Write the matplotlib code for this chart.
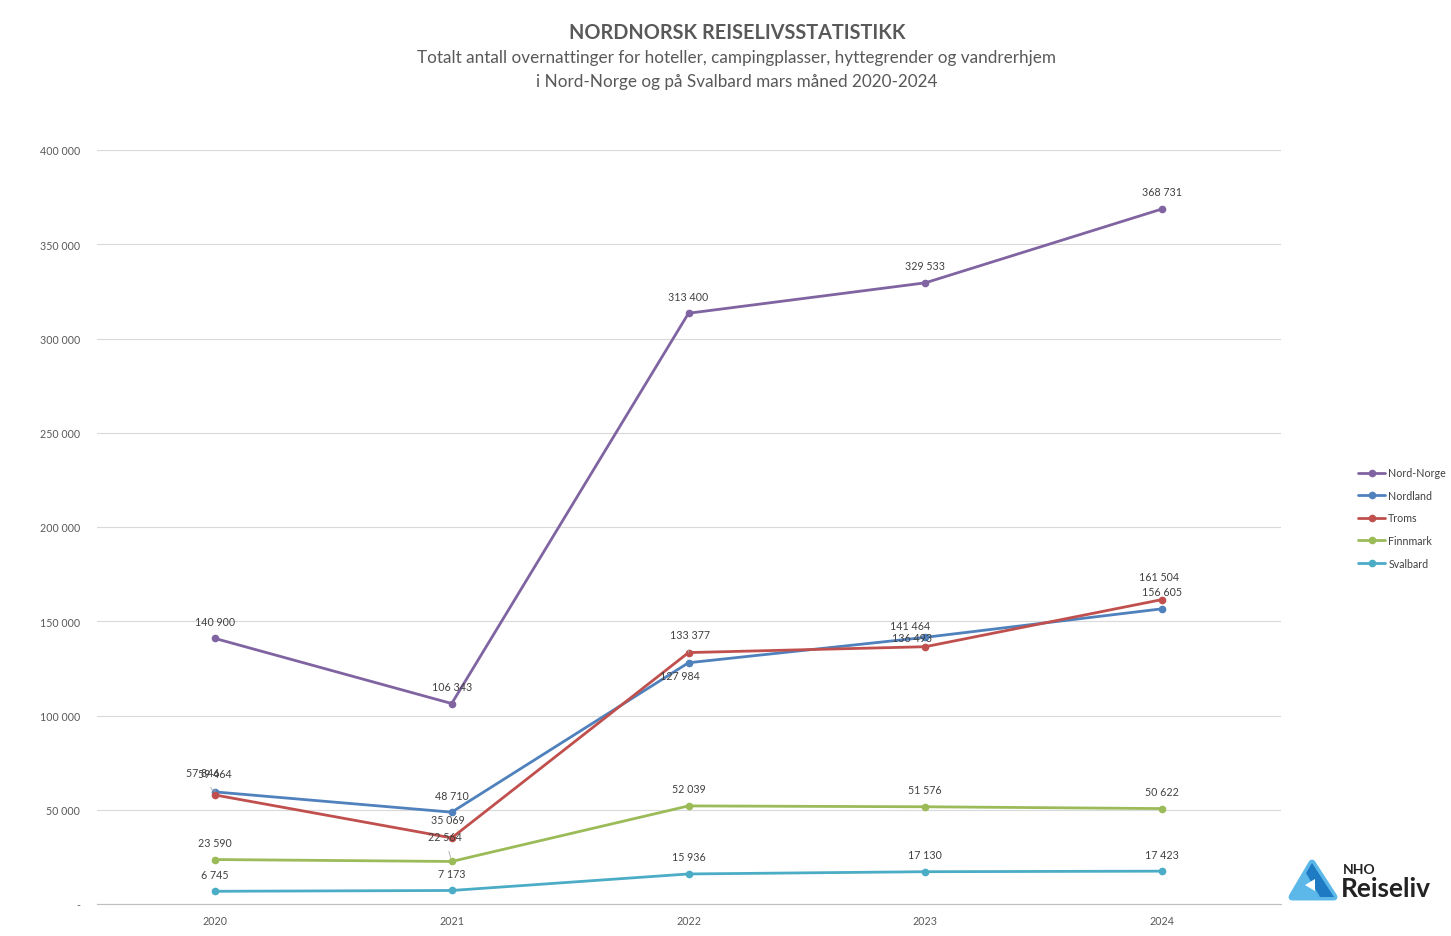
import matplotlib.pyplot as plt
from matplotlib.patches import Polygon
import numpy as np

plt.rcParams['font.family'] = ['Lato', 'DejaVu Sans']

## Data
years = ['2020', '2021', '2022', '2023', '2024']
series_names = ['Nord-Norge', 'Nordland', 'Troms', 'Finnmark', 'Svalbard']
nord_norge = [140900, 106343, 313400, 329533, 368731]
nordland = [59464, 48710, 127984, 141464, 156605]
troms = [57846, 35069, 133377, 136493, 161504]
finnmark = [23590, 22564, 52039, 51576, 50622]
svalbard = [6745, 7173, 15936, 17130, 17423]
yticks = [0, 50000, 100000, 150000, 200000, 250000, 300000, 350000, 400000]

colors = ['#8064A2', '#4F81BD', '#C0504D', '#9BBB59', '#4BACC6']
all_series = [nord_norge, nordland, troms, finnmark, svalbard]

# label centre offsets in pixels (dx, dy) where the default (0, 17) does not fit
label_offsets = {
    ('Nordland', 0): (0, 18), ('Troms', 0): (-12, 22),
    ('Nordland', 2): (-9, -13), ('Troms', 2): (1, 18),
    ('Nordland', 3): (-15, 12), ('Troms', 3): (-13, 9),
    ('Troms', 1): (-4, 18), ('Finnmark', 1): (-7, 25),
    ('Troms', 4): (-3, 23),
}
leaders = {('Troms', 0), ('Nordland', 0), ('Finnmark', 1), ('Troms', 2)}


def fmt(v):
    return f'{v:,}'.replace(',', ' ')


fig = plt.figure(figsize=(14.51, 9.37), dpi=100)
ax = fig.add_axes([96.5 / 1451, 1 - 905 / 937, 1184 / 1451, 754 / 937])

x = np.arange(len(years))
for name, vals, col in zip(series_names, all_series, colors):
    ax.plot(x, vals, color=col, lw=2.0, marker='o', ms=4.5, label=name,
            solid_capstyle='round', zorder=3)
    for i, v in enumerate(vals):
        dx, dy = label_offsets.get((name, i), (0, 17))
        arrow = None
        if (name, i) in leaders:
            arrow = dict(arrowstyle='-', color='#a6a6a6', lw=0.6, shrinkA=5, shrinkB=3)
        ax.annotate(fmt(v), (i, v), xytext=(dx, dy), textcoords='offset pixels',
                    ha='center', va='center', fontsize=7.7, color='#404040',
                    arrowprops=arrow, zorder=4)

ax.set_xlim(-0.5, 4.5)
ax.set_ylim(0, 400000)
ax.set_xticks(x)
ax.set_xticklabels(years)
ax.set_yticks(yticks)
ax.set_yticklabels(['-'] + [fmt(t) for t in yticks[1:]])
ax.tick_params(axis='both', labelsize=7.7, colors='#595959', length=0, pad=12)
ax.tick_params(axis='x', pad=8)
ax.grid(axis='y', color='#d9d9d9', lw=0.8)
ax.set_axisbelow(True)
for s in ['top', 'right', 'left']:
    ax.spines[s].set_visible(False)
ax.spines['bottom'].set_color('#bfbfbf')
ax.spines['bottom'].set_linewidth(0.8)

fig.legend(loc='upper left', bbox_to_anchor=(1353 / 1451, 1 - 463 / 937), frameon=False,
           fontsize=7.7, handlelength=2.5, handletextpad=0.3, labelspacing=1.08,
           labelcolor='#404040', borderpad=0)

fig.text(0.508, 1 - 33 / 937, 'NORDNORSK REISELIVSSTATISTIKK', ha='center', va='center',
         fontsize=14.3, fontweight='bold', color='#595959')
fig.text(0.5075, 1 - 70 / 937,
         'Totalt antall overnattinger for hoteller, campingplasser, hyttegrender og vandrerhjem\n'
         'i Nord-Norge og på Svalbard mars måned 2020-2024',
         ha='center', va='center', fontsize=12.3, color='#595959', linespacing=1.55)

# NHO Reiseliv logo
def px(xp, yp):
    return (xp / 1451, 1 - yp / 937)

fig.patches.append(Polygon([px(1312, 864), px(1334, 898), px(1292, 898)], closed=True,
                           transform=fig.transFigure, color='#5BB8E8', joinstyle='round', lw=5))
fig.patches.append(Polygon([px(1312, 864), px(1334, 898), px(1320, 898), px(1306, 874)], closed=True,
                           transform=fig.transFigure, color='#1E7BC3', lw=0))
fig.patches.append(Polygon([px(1305, 886), px(1315, 880), px(1315, 892)], closed=True,
                           transform=fig.transFigure, color='white', lw=0))
fig.text(1343 / 1451, 1 - 870 / 937, 'NHO', fontsize=10, fontweight='bold', color='#222222',
         va='center', ha='left')
fig.text(1341 / 1451, 1 - 889 / 937, 'Reiseliv', fontsize=19, fontweight='bold', color='#222222',
         va='center', ha='left')

fig.savefig('out.png', dpi=100)
